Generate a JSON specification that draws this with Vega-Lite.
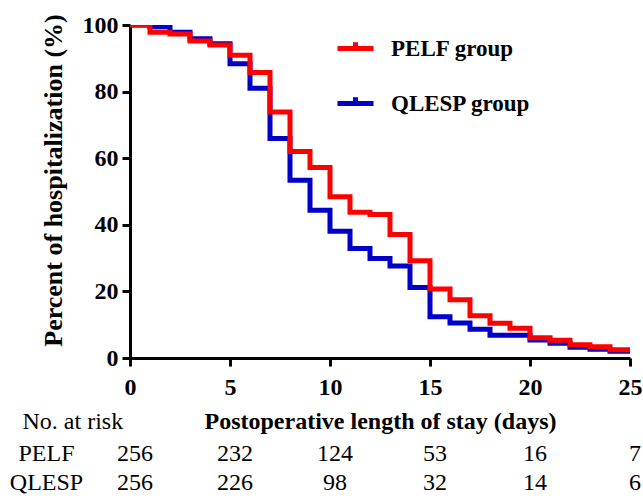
{
  "$schema": "https://vega.github.io/schema/vega-lite/v6.json",
  "autosize": "pad",
  "padding": {"left": 9, "top": 13, "right": 0, "bottom": 0},
  "config": {
    "font": "Liberation Serif",
    "view": {"stroke": null},
    "axis": {"grid": false, "domainColor": "black", "tickColor": "black", "labelColor": "black", "titleColor": "black"}
  },
  "datasets": {
    "km": [
      {"group": "PELF", "day": 0, "pct": 100},
      {"group": "PELF", "day": 1, "pct": 97.8},
      {"group": "PELF", "day": 2, "pct": 97.3},
      {"group": "PELF", "day": 3, "pct": 95.2},
      {"group": "PELF", "day": 4, "pct": 94.0},
      {"group": "PELF", "day": 5, "pct": 90.9},
      {"group": "PELF", "day": 6, "pct": 85.7},
      {"group": "PELF", "day": 7, "pct": 73.9},
      {"group": "PELF", "day": 8, "pct": 62.0},
      {"group": "PELF", "day": 9, "pct": 57.2},
      {"group": "PELF", "day": 10, "pct": 48.4},
      {"group": "PELF", "day": 11, "pct": 43.8},
      {"group": "PELF", "day": 12, "pct": 43.1},
      {"group": "PELF", "day": 13, "pct": 37.1},
      {"group": "PELF", "day": 14, "pct": 29.2},
      {"group": "PELF", "day": 15, "pct": 20.7},
      {"group": "PELF", "day": 16, "pct": 17.5},
      {"group": "PELF", "day": 17, "pct": 12.7},
      {"group": "PELF", "day": 18, "pct": 10.4},
      {"group": "PELF", "day": 19, "pct": 8.9},
      {"group": "PELF", "day": 20, "pct": 6.1},
      {"group": "PELF", "day": 21, "pct": 5.3},
      {"group": "PELF", "day": 22, "pct": 4.0},
      {"group": "PELF", "day": 23, "pct": 3.4},
      {"group": "PELF", "day": 24, "pct": 2.5},
      {"group": "PELF", "day": 25, "pct": 2.5},
      {"group": "QLESP", "day": 0, "pct": 100},
      {"group": "QLESP", "day": 1, "pct": 99.5},
      {"group": "QLESP", "day": 2, "pct": 97.8},
      {"group": "QLESP", "day": 3, "pct": 95.9},
      {"group": "QLESP", "day": 4, "pct": 94.4},
      {"group": "QLESP", "day": 5, "pct": 88.4},
      {"group": "QLESP", "day": 6, "pct": 81.0},
      {"group": "QLESP", "day": 7, "pct": 65.9},
      {"group": "QLESP", "day": 8, "pct": 53.4},
      {"group": "QLESP", "day": 9, "pct": 44.4},
      {"group": "QLESP", "day": 10, "pct": 38.1},
      {"group": "QLESP", "day": 11, "pct": 32.9},
      {"group": "QLESP", "day": 12, "pct": 29.9},
      {"group": "QLESP", "day": 13, "pct": 27.6},
      {"group": "QLESP", "day": 14, "pct": 21.2},
      {"group": "QLESP", "day": 15, "pct": 12.4},
      {"group": "QLESP", "day": 16, "pct": 10.5},
      {"group": "QLESP", "day": 17, "pct": 8.6},
      {"group": "QLESP", "day": 18, "pct": 6.8},
      {"group": "QLESP", "day": 19, "pct": 6.8},
      {"group": "QLESP", "day": 20, "pct": 5.4},
      {"group": "QLESP", "day": 21, "pct": 4.4},
      {"group": "QLESP", "day": 22, "pct": 3.2},
      {"group": "QLESP", "day": 23, "pct": 2.6},
      {"group": "QLESP", "day": 24, "pct": 2.0},
      {"group": "QLESP", "day": 25, "pct": 2.0}
    ],
    "risk": [
      {"group": "PELF", "day": 0, "n": 256},
      {"group": "PELF", "day": 5, "n": 232},
      {"group": "PELF", "day": 10, "n": 124},
      {"group": "PELF", "day": 15, "n": 53},
      {"group": "PELF", "day": 20, "n": 16},
      {"group": "PELF", "day": 25, "n": 7},
      {"group": "QLESP", "day": 0, "n": 256},
      {"group": "QLESP", "day": 5, "n": 226},
      {"group": "QLESP", "day": 10, "n": 98},
      {"group": "QLESP", "day": 15, "n": 32},
      {"group": "QLESP", "day": 20, "n": 14},
      {"group": "QLESP", "day": 25, "n": 6}
    ]
  },
  "bounds": "flush",
  "spacing": 81,
  "vconcat": [
    {
      "width": 500,
      "height": 333,
      "data": {"name": "km"},
      "encoding": {
        "x": {
          "field": "day", "type": "quantitative",
          "scale": {"domain": [0, 25], "nice": false, "zero": false},
          "axis": {
            "values": [0, 5, 10, 15, 20, 25],
            "title": "Postoperative length of stay (days)",
            "titleFontSize": 24, "titleFontWeight": "bold",
            "titleBaseline": "alphabetic", "titleY": 70,
            "labelFontSize": 24, "labelFontWeight": "bold", "labelPadding": 9,
            "labelFlush": false, "labelOverlap": false,
            "tickSize": 8, "tickWidth": 3, "domainWidth": 3
          }
        },
        "y": {
          "field": "pct", "type": "quantitative",
          "scale": {"domain": [0, 100], "nice": false},
          "axis": {
            "values": [0, 20, 40, 60, 80, 100],
            "title": "Percent of hospitalization (%)",
            "titleFontSize": 26, "titleFontWeight": "bold",
            "titleAngle": 270, "titleAlign": "center", "titleBaseline": "alphabetic",
            "titleX": -69, "titleY": 155,
            "labelFontSize": 24, "labelFontWeight": "bold", "labelPadding": 4,
            "labelFlush": false, "labelOverlap": false,
            "tickSize": 8, "tickWidth": 3, "domainWidth": 3
          }
        },
        "color": {
          "field": "group", "type": "nominal",
          "scale": {"domain": ["PELF", "QLESP"], "range": ["#ff0000", "#0000c8"]},
          "legend": {
            "orient": "none", "legendX": 205, "legendY": 3,
            "title": null,
            "symbolType": "M-1,0H1M0,0V-0.35",
            "symbolSize": 1296, "symbolStrokeWidth": 5,
            "symbolFillColor": "transparent",
            "labelFontSize": 23, "labelFontWeight": "bold", "labelColor": "black",
            "labelOffset": 15, "rowPadding": 22,
            "labelExpr": "datum.label + ' group'"
          }
        }
      },
      "layer": [
        {
          "transform": [{"filter": "datum.group === 'QLESP'"}],
          "mark": {"type": "line", "interpolate": "step-after", "strokeWidth": 5, "clip": true}
        },
        {
          "transform": [{"filter": "datum.group === 'PELF'"}],
          "mark": {"type": "line", "interpolate": "step-after", "strokeWidth": 5, "clip": true}
        }
      ]
    },
    {
      "width": 500,
      "height": 58,
      "data": {"name": "risk"},
      "mark": {"type": "text", "fontSize": 24, "align": "center", "baseline": "middle", "dx": 5, "color": "black"},
      "encoding": {
        "x": {"field": "day", "type": "quantitative", "scale": {"domain": [0, 25], "nice": false, "zero": false}, "axis": null},
        "y": {
          "field": "group", "type": "nominal", "sort": ["PELF", "QLESP"],
          "axis": {
            "title": "No. at risk", "titleAngle": 0, "titleAlign": "left", "titleBaseline": "alphabetic",
            "titleX": -108, "titleY": -11, "titleFontSize": 24, "titleFontWeight": "normal",
            "domain": false, "ticks": false, "tickSize": 0,
            "labelFontSize": 24, "labelAlign": "center", "labelBaseline": "middle", "labelPadding": 84
          }
        },
        "text": {"field": "n", "type": "quantitative"}
      }
    }
  ]
}
